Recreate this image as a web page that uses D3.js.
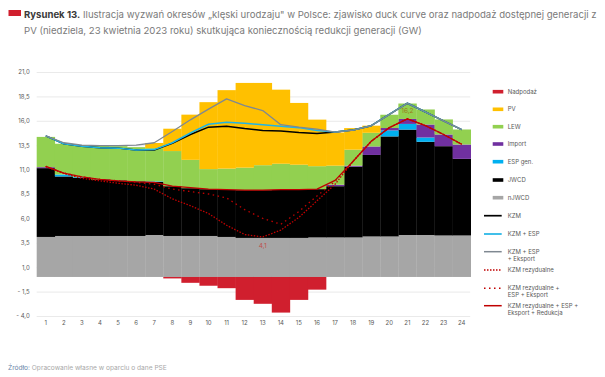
<!DOCTYPE html>
<html><head><meta charset="utf-8">
<script src="https://cdn.jsdelivr.net/npm/d3@7/dist/d3.min.js"></script>
<style>body{margin:0;background:#fff}svg{display:block}</style>
</head><body>
<svg id="c" width="605" height="377"></svg>
<script>
const hours = d3.range(1, 25);
const nJWCD   = [4.1,4.2,4.2,4.2,4.2,4.2,4.3,4.2,4.2,4.2,4.1,4.0,4.0,4.0,4.0,4.05,4.05,4.05,4.15,4.15,4.3,4.3,4.25,4.25];
const JWCD    = [7.05,6.1,5.95,5.8,5.7,5.6,5.45,5.1,4.9,4.8,4.85,4.9,4.9,4.95,4.95,4.95,5.25,7.25,8.35,10.25,10.8,9.55,9.15,7.85];
const ESPgen  = [0,0.2,0.08,0,0,0,0.05,0,0,0,0,0,0,0,0,0,0,0,0,0.62,0.58,0.44,0,0];
const Import  = [0.1,0,0,0,0,0,0,0,0,0,0,0,0,0,0,0,0.15,0.1,0.87,0.24,0.51,1.33,1.2,1.47];
const LEW     = [3.1,3.15,3.27,3.45,3.5,3.5,3.4,3.6,2.9,2.05,2.15,2.3,2.55,2.65,2.55,2.35,1.95,1.64,1.4,1.36,1.58,1.54,1.54,1.54];
const PV      = [0,0,0,0,0,0,0.53,2.29,4.63,6.86,8.04,8.68,8.43,7.59,6.33,4.77,3.4,2.21,0.73,0,0,0,0,0];
const Nadpodaz= [0,0,0,0,0,0,0,-0.15,-0.6,-0.9,-1.15,-2.35,-2.75,-3.65,-2.35,-1.3,0,0,0,0,0,0,0,0];

const KZM        = [14.45,13.65,13.4,13.25,13.2,13.0,13.0,13.7,14.6,15.35,15.45,15.2,15.0,14.95,14.8,14.7,14.85,15.05,15.5,16.65,17.8,16.9,16.0,15.1];
const KZM_ESP    = [14.45,13.65,13.4,13.25,13.2,13.0,13.05,13.75,14.75,15.65,15.85,15.75,15.6,15.45,15.3,15.0,14.85,15.05,15.5,16.65,17.8,16.9,16.0,15.1];
const KZM_ESP_EX = [14.45,13.75,13.5,13.45,13.45,13.5,13.75,14.9,16.1,17.2,18.25,17.55,17.05,15.6,15.35,15.15,14.85,15.05,15.5,16.65,17.8,16.9,16.0,15.1];
const KZM_rez    = [11.33,10.6,10.1,9.85,9.6,9.4,9.0,8.0,7.3,6.5,5.3,4.35,4.1,4.8,6.1,7.8,9.5,11.85,13.9,15.3,16.2,15.5,14.6,13.6];
const KZM_rez_ESP_EX = [11.33,10.65,10.25,10.0,9.85,9.7,9.5,9.0,8.75,8.5,8.1,6.9,6.0,5.4,6.7,8.3,9.8,11.85,13.9,15.3,16.2,15.5,14.6,13.6];
const KZM_rez_full   = [11.33,10.65,10.25,10.0,9.85,9.75,9.7,9.3,9.15,9.0,8.95,8.9,8.9,8.95,8.95,9.0,9.9,11.85,13.9,15.3,16.2,15.5,14.6,13.6];

const yTicks = [21,18.5,16,13.5,11,8.5,6,3.5,1,-1.5,-4];
const barKeys   = ["nJWCD","JWCD","ESPgen","Import","LEW","PV","Nadpodaz"];
const barColors = {nJWCD:"#a6a6a6",JWCD:"#000000",ESPgen:"#00b0f0",Import:"#7030a0",LEW:"#92d050",PV:"#ffc000",Nadpodaz:"#d01f2e"};
const barLegend = [["Nadpodaz","Nadpodaż"],["PV","PV"],["LEW","LEW"],["Import","Import"],["ESPgen","ESP gen."],["JWCD","JWCD"],["nJWCD","nJWCD"]];
const lineLegend = [
  {lab:["KZM"], color:"#000000", dash:null, w:1.5},
  {lab:["KZM + ESP"], color:"#1fb4e6", dash:null, w:1.5},
  {lab:["KZM + ESP","+ Eksport"], color:"#7f8891", dash:null, w:1.3},
  {lab:["KZM rezydualne"], color:"#c00000", dash:"1.5,1.5", w:1.3},
  {lab:["KZM rezydualne +","ESP + Eksport"], color:"#c00000", dash:"1.5,3.5", w:1.3},
  {lab:["KZM rezydualne + ESP +","Eksport + Redukcja"], color:"#c00000", dash:null, w:1.3}
];
const titleBold = "Rysunek 13.";
const titleRest1 = " Ilustracja wyzwań okresów „klęski urodzaju\" w Polsce: zjawisko duck curve oraz nadpodaż dostępnej generacji z";
const title2 = "PV (niedziela, 23 kwietnia 2023 roku) skutkująca koniecznością redukcji generacji (GW)";
const srcBold = "Źródło:";
const srcRest = " Opracowanie własne w oparciu o dane PSE";

const svg = d3.select("#c");
svg.append("rect").attr("width",605).attr("height",377).attr("fill","#fff");

// title
svg.append("rect").attr("x",8.5).attr("y",10).attr("width",12.5).attr("height",6).attr("fill","#d01f2e");
const t1 = svg.append("text").attr("x",24).attr("y",17.5).style("font-family","Inter, Roboto, sans-serif");
t1.append("tspan").text(titleBold).attr("font-weight",700).attr("fill","#3a3a3a");
t1.append("tspan").text(titleRest1).attr("fill","#7a7a7a");
const t2 = svg.append("text").attr("x",24).attr("y",34).style("font-family","Inter, Roboto, sans-serif").attr("fill","#7a7a7a").text(title2);
function fit(sel, target, fs){ sel.style("font-size",fs+"px"); const w=sel.node().getComputedTextLength(); sel.style("font-size",(fs*target/w)+"px"); return fs*target/w; }
const tfs = fit(t1, 573, 10);
t2.style("font-size", tfs+"px");

// scales
const x = d3.scaleBand().domain(hours).range([36.7, 470.7]).padding(0);
const y = d3.scaleLinear().domain([-4, 21]).range([316, 72]);
const bw = x.bandwidth();
const fmt = v => (v < 0 ? "- " + d3.format(".1f")(-v) : d3.format(".1f")(v)).replace(".", ",");

// grid + y axis
const gy = svg.append("g").attr("transform","translate(36.7,0)")
  .call(d3.axisLeft(y).tickValues(yTicks).tickFormat(fmt).tickSize(-433.5).tickPadding(7));
gy.select(".domain").remove();
gy.selectAll(".tick line").attr("stroke","#e4e4e4").attr("stroke-width",0.8);
gy.selectAll(".tick text").attr("fill","#5a5a5a").style("font-size","6px").style("font-family","Inter, Roboto, sans-serif");

// bars
const table = hours.map((h,i)=>({hour:h,nJWCD:nJWCD[i],JWCD:JWCD[i],ESPgen:ESPgen[i],Import:Import[i],LEW:LEW[i],PV:PV[i],Nadpodaz:Nadpodaz[i]}));
const series = d3.stack().keys(barKeys).offset(d3.stackOffsetDiverging)(table);
svg.append("g").selectAll("g").data(series).join("g").attr("fill",d=>barColors[d.key])
  .selectAll("rect").data(d=>d).join("rect")
  .attr("x",d=>x(d.data.hour)).attr("width",bw+0.3)
  .attr("y",d=>y(Math.max(d[0],d[1]))).attr("height",d=>Math.abs(y(d[0])-y(d[1])));

// x axis
const gx = svg.append("g").attr("transform","translate(0,316)").call(d3.axisBottom(x).tickSize(0).tickPadding(4.5));
gx.select(".domain").remove();
gx.selectAll(".tick text").attr("fill","#5a5a5a").style("font-size","6px").style("font-family","Inter, Roboto, sans-serif");

// lines
const cx = h => x(h) + bw/2;
const lineGen = arr => d3.line().x((d,i)=>cx(hours[i])).y(d=>y(d))(arr);
const lines = [
  {d:KZM_rez, ...lineLegend[3]},
  {d:KZM_rez_ESP_EX, ...lineLegend[4]},
  {d:KZM_rez_full, ...lineLegend[5]},
  {d:KZM, ...lineLegend[0]},
  {d:KZM_ESP, ...lineLegend[1]},
  {d:KZM_ESP_EX, ...lineLegend[2]}
];
lines.forEach(l=>{
  svg.append("path").attr("d",lineGen(l.d)).attr("fill","none").attr("stroke",l.color)
    .attr("stroke-width",l.w).attr("stroke-dasharray",l.dash).attr("stroke-linejoin","round");
});

// value labels
const iMax = d3.maxIndex(KZM_rez_full), iMin = d3.minIndex(KZM_rez);
svg.append("text").attr("x",cx(hours[iMax])).attr("y",y(KZM_rez_full[iMax])-5.5).attr("text-anchor","middle")
  .attr("fill","#9a7a1a").style("font-size","6.5px").style("font-family","Inter, Roboto, sans-serif").text(fmt(KZM_rez_full[iMax]));
svg.append("text").attr("x",cx(hours[iMin])).attr("y",y(KZM_rez[iMin])+11).attr("text-anchor","middle")
  .attr("fill","#c0504d").style("font-size","6.5px").style("font-family","Inter, Roboto, sans-serif").text(fmt(KZM_rez[iMin]));

// legend
const lg = svg.append("g").style("font-family","Inter, Roboto, sans-serif").style("font-size","6px");
const barY = [91.7,109.3,126.7,144,161.7,180,197.7];
barLegend.forEach(([k,lab],i)=>{
  lg.append("rect").attr("x",492.7).attr("y",barY[i]-1.8).attr("width",10.6).attr("height",3.6).attr("fill",barColors[k]);
  lg.append("text").attr("x",507.7).attr("y",barY[i]+2).attr("fill","#595959").text(lab);
});
const lineY = [215.7,234,251.7,270,288.3,305.7];
lineLegend.forEach((l,i)=>{
  lg.append("line").attr("x1",484).attr("x2",501.7).attr("y1",lineY[i]).attr("y2",lineY[i])
    .attr("stroke",l.color).attr("stroke-width",l.w+0.2).attr("stroke-dasharray",l.dash);
  l.lab.forEach((s,j)=>lg.append("text").attr("x",507.7).attr("y",lineY[i]+2+j*7).attr("fill","#595959").text(s));
});

// source
const ft = svg.append("text").attr("x",8).attr("y",370).style("font-family","Inter, Roboto, sans-serif");
ft.append("tspan").text(srcBold).attr("fill","#6a86a8");
ft.append("tspan").text(srcRest).attr("fill","#a8a8a8");
fit(ft, 159, 6.5);
</script>
</body></html>
